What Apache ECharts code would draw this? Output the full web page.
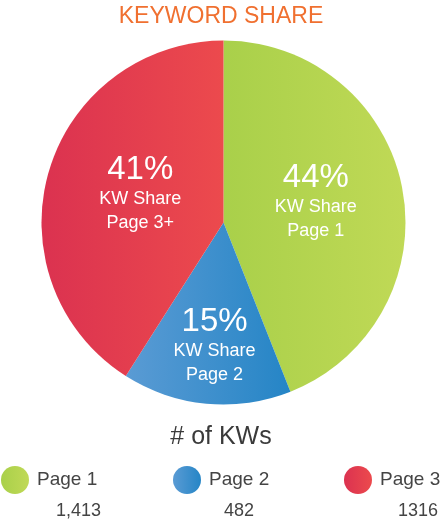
<!DOCTYPE html>
<html>
<head>
<meta charset="utf-8">
<script src="https://cdn.jsdelivr.net/npm/echarts@6/dist/echarts.min.js"></script>
<style>
html,body{margin:0;padding:0;background:#fff;}
#main{width:442px;height:520px;}
</style>
</head>
<body>
<div id="main"></div>
<script>
var pageNames=['Page 1','Page 2','Page 3'];
var sliceNames=['Page 1','Page 2','Page 3+'];
var kwCounts=[1413,482,1316];
var countLabels=['1,413','482','1316'];
//左->右渐变色
var colorsLeft=['#a9d04a','#5a9bd4','#db3250'];
var colorsRight=['#c0d956','#2585c6','#ec4a4d'];
var labelOffsets=[[0,-3],[0,30],[7,-2]];

var myChart=echarts.init(document.getElementById('main'));

function grad(i){
	return new echarts.graphic.LinearGradient(0,0,1,0,[
		{offset:0,color:colorsLeft[i]},
		{offset:1,color:colorsRight[i]}
	]);
}

var total=0;
for(var i=0;i<kwCounts.length;i++){ total+=kwCounts[i]; }

var pieData=[];
for(var i=0;i<kwCounts.length;i++){
	pieData.push({
		value:kwCounts[i],
		name:pageNames[i],
		itemStyle:{color:grad(i)},
		label:{offset:labelOffsets[i]}
	});
}

var legends=[];
var legendX=[1,173,344];
for(var i=0;i<pageNames.length;i++){
	legends.push({
		data:[pageNames[i]],
		left:legendX[i],
		top:466,
		padding:0,
		icon:'circle',
		itemWidth:28,
		itemHeight:28,
		itemGap:6,
		selectedMode:false,
		textStyle:{fontSize:19,color:'#444',padding:[0,0,0,3],fontFamily:'Liberation Sans, Arial, sans-serif'}
	});
}

var countX=[56,224,398];
var graphics=[];
for(var i=0;i<countLabels.length;i++){
	graphics.push({
		type:'text',
		left:countX[i],
		top:502,
		style:{
			text:countLabels[i],
			x:0,
			fill:'#444',
			font:'18px Liberation Sans, Arial, sans-serif',
			textAlign:'center'
		}
	});
}

var option={
	animation:false,
	title:[
		{
			text:'KEYWORD SHARE',
			left:'center',
			top:0,
			textStyle:{color:'#f07030',fontSize:23,fontWeight:'normal',fontFamily:'Liberation Sans, Arial, sans-serif'}
		},
		{
			text:'# of KWs',
			left:'center',
			top:420,
			textStyle:{color:'#3a3a3a',fontSize:25,fontWeight:'normal',fontFamily:'Liberation Sans, Arial, sans-serif'}
		}
	],
	legend:legends,
	graphic:graphics,
	series:[
		{
			type:'pie',
			center:[223.5,222.5],
			radius:182,
			startAngle:90,
			clockwise:true,
			label:{
				show:true,
				position:'inside',
				formatter:function(p){
					return '{big|'+Math.round(p.value/total*100)+'%}\n{small|KW Share}\n{small|'+sliceNames[p.dataIndex]+'}';
				},
				rich:{
					big:{fontSize:33,color:'#fff',lineHeight:34,fontFamily:'Liberation Sans, Arial, sans-serif'},
					small:{fontSize:18,color:'#fff',lineHeight:24,fontFamily:'Liberation Sans, Arial, sans-serif'}
				}
			},
			labelLine:{show:false},
			emphasis:{disabled:true},
			data:pieData
		}
	]
};
myChart.setOption(option);
</script>
</body>
</html>
